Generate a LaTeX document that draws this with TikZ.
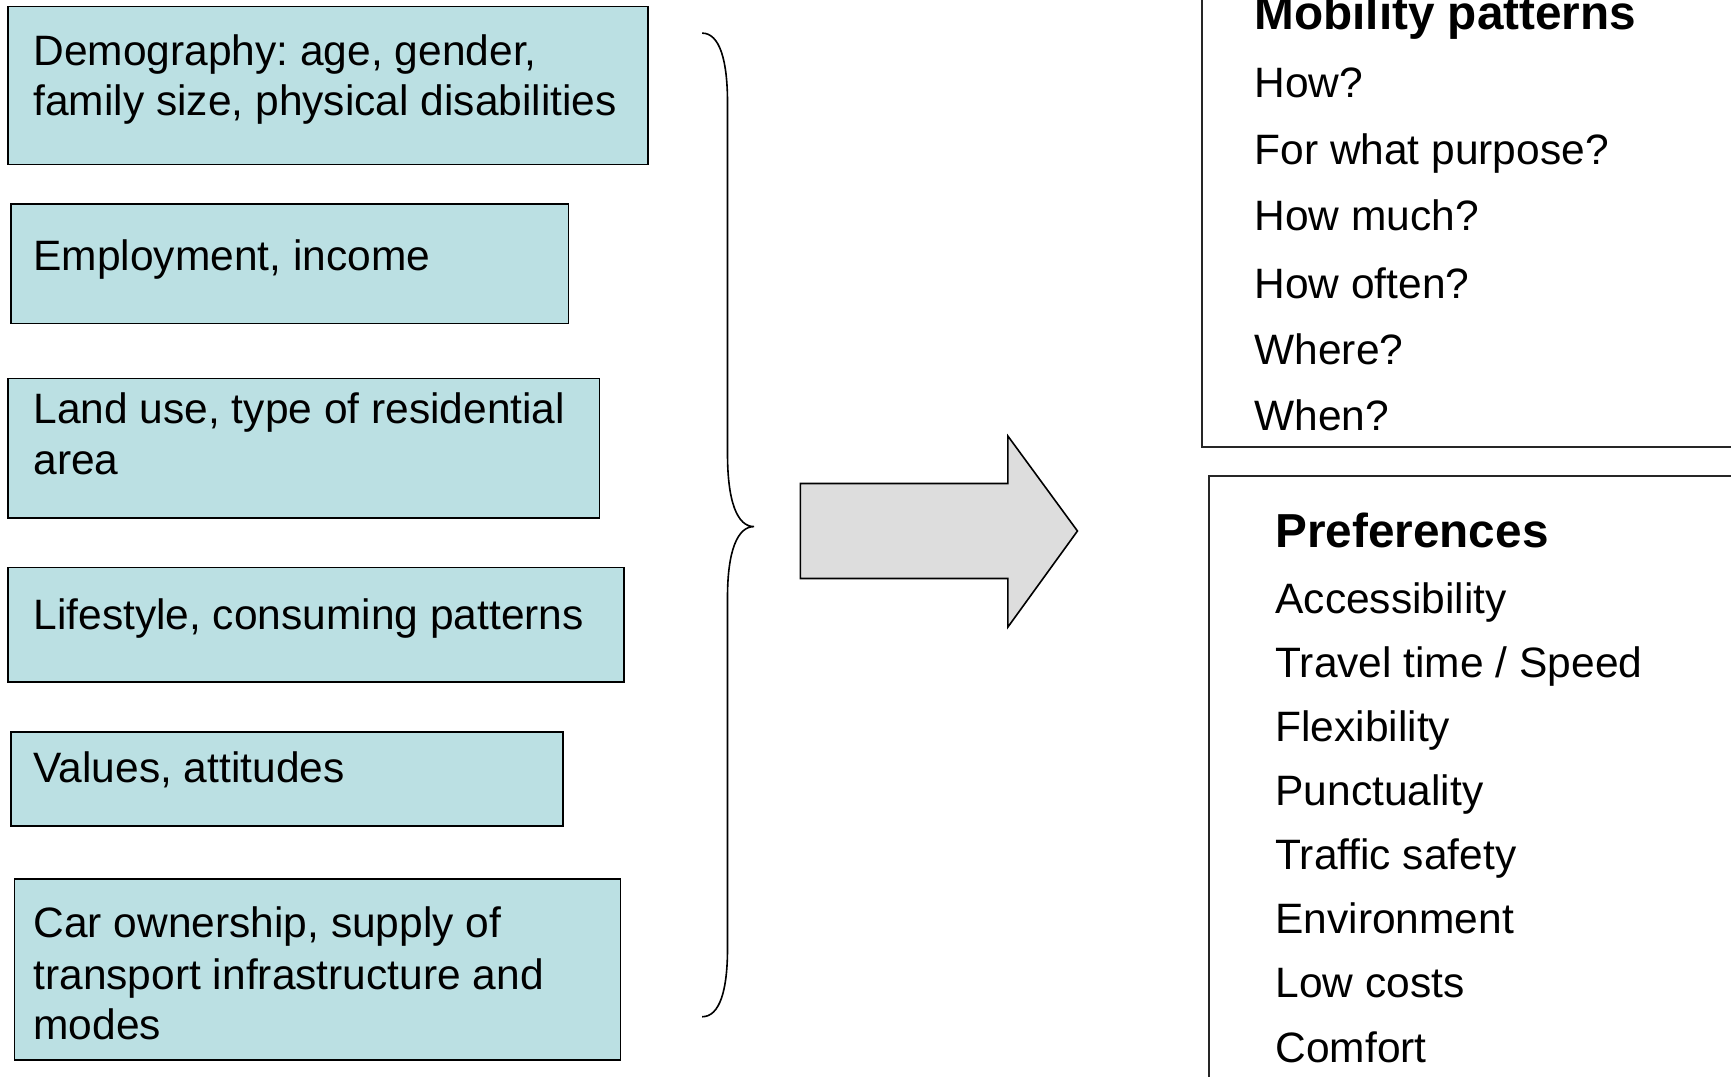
\documentclass[tikz,border=0pt]{standalone}
\usepackage{fontspec}
\setmainfont{Liberation Sans}
\frenchspacing
\definecolor{boxblue}{RGB}{187,224,227}
\definecolor{arrowgray}{RGB}{221,221,221}
\tikzset{
  lbox/.style={draw=black, line width=0.8pt, fill=boxblue},
  rbox/.style={draw=black!85, line width=0.8pt},
  txt/.style={anchor=base west, inner sep=0pt, font=\fontsize{21.25pt}{25.4pt}\selectfont},
  headtxt/.style={anchor=base west, inner sep=0pt, font=\fontsize{23.85pt}{28pt}\selectfont\bfseries},
  bracestyle/.style={draw=black, line width=0.8pt},
  blockarrow/.style={draw=black, line width=0.8pt, fill=arrowgray, line join=miter},
}
\begin{document}
\begin{tikzpicture}[x=0.552pt,y=-0.552pt]
\useasboundingbox (0,0) rectangle (1568,975);
\clip (0,0) rectangle (1568,975);
\fill[white] (0,0) rectangle (1568,975);

% left boxes
\draw[lbox] (7,6) rectangle (587,149);
\node[txt] (t1a) at (30,59) {Demography: age, gender,};
\node[txt] (t1b) at (30,105) {family size, physical disabilities};

\draw[lbox] (10,185) rectangle (515,293);
\node[txt] (t2) at (30,245) {Employment, income};

\draw[lbox] (7,343) rectangle (543,469);
\node[txt] (t3a) at (30,384) {Land use, type of residential};
\node[txt] (t3b) at (30,430) {area};

\draw[lbox] (7,514) rectangle (565,618);
\node[txt] (t4) at (30,570) {Lifestyle, consuming patterns};

\draw[lbox] (10,663) rectangle (510,748);
\node[txt] (t5) at (30,709) {Values, attitudes};

\draw[lbox] (13,796) rectangle (562,960);
\node[txt] (t6a) at (30,849) {Car ownership, supply of};
\node[txt] (t6b) at (30,896) {transport infrastructure and};
\node[txt] (t6c) at (30,942) {modes};

% brace
\draw[bracestyle] (636,30) .. controls (652,30) and (659,55) .. (659,93)
  -- (659,411) .. controls (659,455) and (668,477) .. (683,477)
  .. controls (668,477) and (659,499) .. (659,541)
  -- (659,859) .. controls (659,897) and (652,921) .. (636,921);

% block arrow
\draw[blockarrow] (725,438) -- (913,438) -- (913,395) -- (976,481)
  -- (913,568) -- (913,524) -- (725,524) -- cycle;

% right top box
\draw[rbox] (1089,-10) -- (1089,405) -- (1580,405);
\node[headtxt] (mp) at (1136,27) {Mobility patterns};
\node[txt] (m1) at (1136,88) {How?};
\node[txt] (m2) at (1136,149) {For what purpose?};
\node[txt] (m3) at (1136,209) {How much?};
\node[txt] (m4) at (1136,270) {How often?};
\node[txt] (m5) at (1136,330) {Where?};
\node[txt] (m6) at (1136,390) {When?};

% right bottom box
\draw[rbox] (1095,985) -- (1095,431) -- (1580,431);
\node[headtxt] (pr) at (1155,496) {Preferences};
\node[txt] (p1) at (1155,556) {Accessibility};
\node[txt] (p2) at (1155,614) {Travel time / Speed};
\node[txt] (p3) at (1155,672) {Flexibility};
\node[txt] (p4) at (1155,730) {Punctuality};
\node[txt] (p5) at (1155,788) {Traffic safety};
\node[txt] (p6) at (1155,846) {Environment};
\node[txt] (p7) at (1155,904) {Low costs};
\node[txt] (p8) at (1155,962) {Comfort};
\end{tikzpicture}
\end{document}
